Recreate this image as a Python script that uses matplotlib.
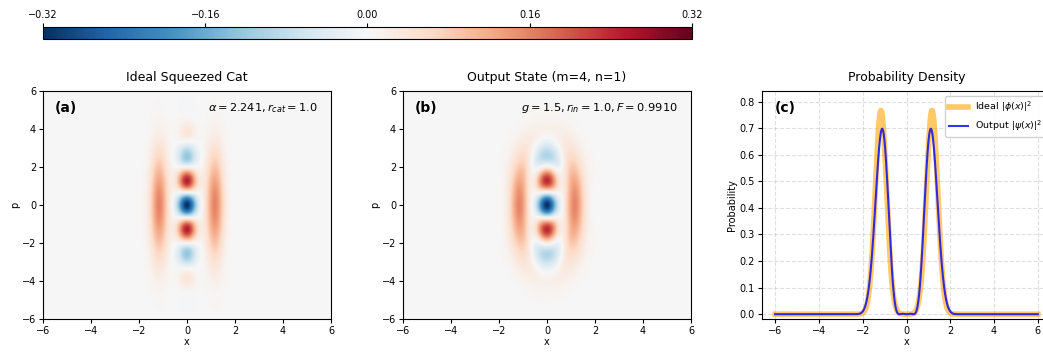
import numpy as np
import matplotlib
matplotlib.use("Agg")
import matplotlib.pyplot as plt

# ---- values shown on / ----
alpha = 2.241            # cat amplitude
r_cat = 1.0              # squeezing of the ideal cat
out_width = 0.685        # Gaussian width of the output wavefunction
out_powers = [1, 3, 5]   # odd polynomial terms of the output wavefunction
out_coeffs = [-0.34162, 3.24134, -0.56261]
vlim = 0.32
cbar_ticks = [-0.32, -0.16, 0.00, 0.16, 0.32]
axis_ticks = [-6, -4, -2, 0, 2, 4, 6]
prob_ticks = [0.0, 0.1, 0.2, 0.3, 0.4, 0.5, 0.6, 0.7, 0.8]
titles = ["Ideal Squeezed Cat", "Output State (m=4, n=1)", "Probability Density"]
panel_tags = ["(a)", "(b)", "(c)"]
notes = [r"$\alpha = 2.241, r_{cat} = 1.0$", r"$g = 1.5, r_{in} = 1.0, F = 0.9910$"]
legend_labels = [r"Ideal $|\phi(x)|^2$", r"Output $|\psi(x)|^2$"]

sig = np.exp(-r_cat)
x0 = np.sqrt(2) * alpha * np.exp(-r_cat)


def psi_cat(x):
    return np.exp(-(x - x0) ** 2 / (2 * sig ** 2)) - np.exp(-(x + x0) ** 2 / (2 * sig ** 2))


def psi_out(x):
    return sum(c * x ** k for c, k in zip(out_coeffs, out_powers)) * np.exp(-x ** 2 / (2 * out_width ** 2))


xf = np.linspace(-9, 9, 6001)
dxf = xf[1] - xf[0]
cat_norm = np.sqrt(np.sum(psi_cat(xf) ** 2) * dxf)
out_norm = np.sqrt(np.sum(psi_out(xf) ** 2) * dxf)


def wigner(psi, norm):
    xs = np.linspace(-6, 6, 301)
    ps = np.linspace(-6, 6, 301)
    ys = np.linspace(-6, 6, 1201)
    dy = ys[1] - ys[0]
    X, Y = np.meshgrid(xs, ys, indexing="ij")
    f = psi(X + Y) * psi(X - Y) / norm ** 2
    W = f @ np.cos(2 * np.outer(ys, ps)) * dy / np.pi
    return W.T


W_cat = wigner(psi_cat, cat_norm)
W_out = wigner(psi_out, out_norm)

xl = np.linspace(-6, 6, 1000)
P_cat = psi_cat(xl) ** 2 / cat_norm ** 2
P_out = psi_out(xl) ** 2 / out_norm ** 2

# ---- figure ----
FW, FH = 1043, 352
fig = plt.figure(figsize=(FW / 100, FH / 100), dpi=100)


def px_axes(l, t, w, h):
    return fig.add_axes([l / FW, 1 - (t + h) / FH, w / FW, h / FH])


fs_tick = 7
axa = px_axes(43, 91, 288, 228)
axb = px_axes(403, 91, 288, 228)
axc = px_axes(762, 91, 289, 228)
cax = px_axes(43, 26.5, 649, 12)

for ax, W, title, tag, note in zip([axa, axb], [W_cat, W_out], titles[:2], panel_tags[:2], notes):
    im = ax.imshow(W, extent=[-6, 6, -6, 6], origin="lower", cmap="RdBu_r",
                   vmin=-vlim, vmax=vlim, aspect="auto", interpolation="bilinear")
    ax.set_xticks(axis_ticks)
    ax.set_yticks(axis_ticks)
    ax.tick_params(labelsize=fs_tick, length=3, pad=2)
    ax.set_xlabel("x", fontsize=fs_tick, labelpad=1)
    ax.set_ylabel("p", fontsize=fs_tick, labelpad=1)
    ax.set_title(title, fontsize=9, pad=7)
    ax.text(0.04, 0.955, tag, transform=ax.transAxes, fontsize=10, fontweight="bold",
            ha="left", va="top")
    ax.text(0.955, 0.955, note, transform=ax.transAxes, fontsize=8.2, ha="right", va="top")

cb = fig.colorbar(im, cax=cax, orientation="horizontal", ticks=cbar_ticks)
cax.xaxis.set_ticks_position("top")
cax.tick_params(labelsize=fs_tick, length=3, pad=2)
cb.ax.set_xticklabels([f"{t:.2f}".replace("-", "\u2212") for t in cbar_ticks])

axc.plot(xl, P_cat, color="orange", lw=4, alpha=0.6, label=legend_labels[0])
axc.plot(xl, P_out, color="blue", lw=1.5, alpha=0.8, label=legend_labels[1])
axc.set_xlim(-6.6, 6.6)
axc.set_ylim(-0.018, 0.84)
axc.set_xticks(axis_ticks)
axc.set_yticks(prob_ticks)
axc.tick_params(labelsize=fs_tick, length=3, pad=2)
axc.grid(True, linestyle="--", alpha=0.4)
axc.set_xlabel("x", fontsize=fs_tick, labelpad=1)
axc.set_ylabel("Probability", fontsize=fs_tick, labelpad=2)
axc.set_title(titles[2], fontsize=9, pad=7)
axc.text(0.045, 0.955, panel_tags[2], transform=axc.transAxes, fontsize=10,
         fontweight="bold", ha="left", va="top")
axc.legend(loc="upper right", fontsize=6.8, framealpha=0.9)

fig.savefig("out.png", dpi=100)
